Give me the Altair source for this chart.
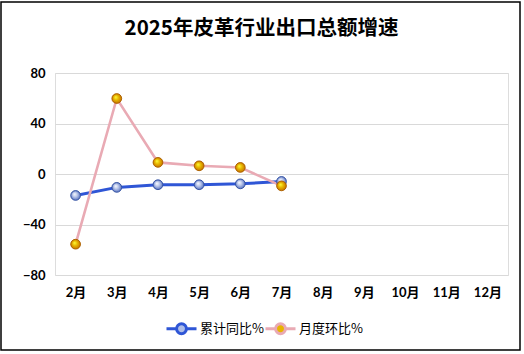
import altair as alt
import pandas as pd

months = ["2月", "3月", "4月", "5月", "6月", "7月", "8月", "9月", "10月", "11月", "12月"]
series = ["累计同比%", "月度环比%"]
cum_yoy = [-17.0, -10.6, -8.5, -8.5, -7.8, -5.9]
mom_chg = [-55.6, 59.8, 9.2, 6.5, 5.2, -9.4]
y_ticks = [-80, -40, 0, 40, 80]
title_text = "2025年皮革行业出口总额增速"

rows = []
for name, vals in zip(series, [cum_yoy, mom_chg]):
    for m, v in zip(months, vals):
        rows.append({"month": m, "series": name, "value": v})
df = pd.DataFrame(rows)

LAT = "Lato, 'Noto Sans CJK SC', sans-serif"
CJK = "'Noto Sans CJK SC', sans-serif"

line_colors = ["#2F56D6", "#E9AAB4"]
dot_colors = ["#AEBDE8", "#E8B400"]

x = alt.X("month:N", sort=months,
          scale=alt.Scale(domain=months, type="point", padding=0.5),
          axis=alt.Axis(title=None, labelAngle=0, domain=False, ticks=False, grid=False,
                        labelFont=LAT, labelFontWeight="bold", labelFontSize=13,
                        labelColor="#000000", labelPadding=11))
y = alt.Y("value:Q",
          scale=alt.Scale(domain=[-80, 80], nice=False, zero=False),
          axis=alt.Axis(title=None, values=y_ticks, domain=False, ticks=False,
                        gridColor="#D9D9D9", gridWidth=1,
                        labelFont=LAT, labelFontWeight="bold", labelFontSize=13,
                        labelColor="#000000", labelPadding=10))

legend_path = ("M-1,0H-0.36M0.36,0H1"
               "M-0.33,0A0.33,0.33 0 1,1 0.33,0A0.33,0.33 0 1,1 -0.33,0Z")
leg = alt.Legend(title=None, orient="none", legendX=110, legendY=239,
                 direction="horizontal", symbolType=legend_path, symbolSize=900,
                 symbolStrokeWidth=3, labelFont=CJK, labelFontSize=13,
                 labelColor="#000000", labelOffset=2, columnPadding=-7)

base = alt.Chart(df).encode(x=x, y=y)

lines = base.mark_line(strokeWidth=3).encode(
    stroke=alt.Stroke("series:N", scale=alt.Scale(domain=series, range=line_colors), legend=leg),
)
lines_pink = lines.transform_filter(alt.datum.series == series[1]).mark_line(strokeWidth=2.6)
lines_blue = lines.transform_filter(alt.datum.series == series[0])

solid_pts = base.mark_point(filled=True, size=90, opacity=1).encode(
    fill=alt.Fill("series:N", scale=alt.Scale(domain=series, range=dot_colors), legend=leg),
)


def sphere(stops):
    return alt.RadialGradient(
        gradient="radial", x1=0.38, y1=0.35, r1=0.0, x2=0.5, y2=0.5, r2=0.55,
        stops=[alt.GradientStop(offset=o, color=c) for o, c in stops])


blue_pts = base.transform_filter(alt.datum.series == series[0]).mark_point(
    filled=True, size=95, opacity=1, strokeWidth=0.9, stroke="#2D4C9E",
    fill=sphere([(0, "#FFFFFF"), (0.45, "#B9C6EA"), (1, "#4A66B8")]))
gold_pts = base.transform_filter(alt.datum.series == series[1]).mark_point(
    filled=True, size=95, opacity=1, strokeWidth=0.9, stroke="#A85A00",
    fill=sphere([(0, "#FFFF40"), (0.45, "#E8B800"), (1, "#C06A00")]))

border = alt.Chart(alt.Data(values=[{"k": 1}])).mark_rect(
    fillOpacity=0, stroke="#000000", strokeWidth=1.5).encode(
    x=alt.value(-54), x2=alt.value(465), y=alt.value(-71), y2=alt.value(277))

chart = alt.layer(border, lines_blue, lines_pink, solid_pts, blue_pts, gold_pts).properties(
    width=453, height=202,
    title=alt.TitleParams(title_text, font=CJK, fontWeight="bold", fontSize=20.5,
                          color="#000000", anchor="middle", dx=-20, dy=42),
    autosize=alt.AutoSizeParams(type="none"),
    padding={"left": 55, "top": 73, "right": 16, "bottom": 79},
).configure_view(stroke=None).configure(background="#FFFFFF")

chart.save("out.html", embed_options={"renderer": "svg", "actions": False})
